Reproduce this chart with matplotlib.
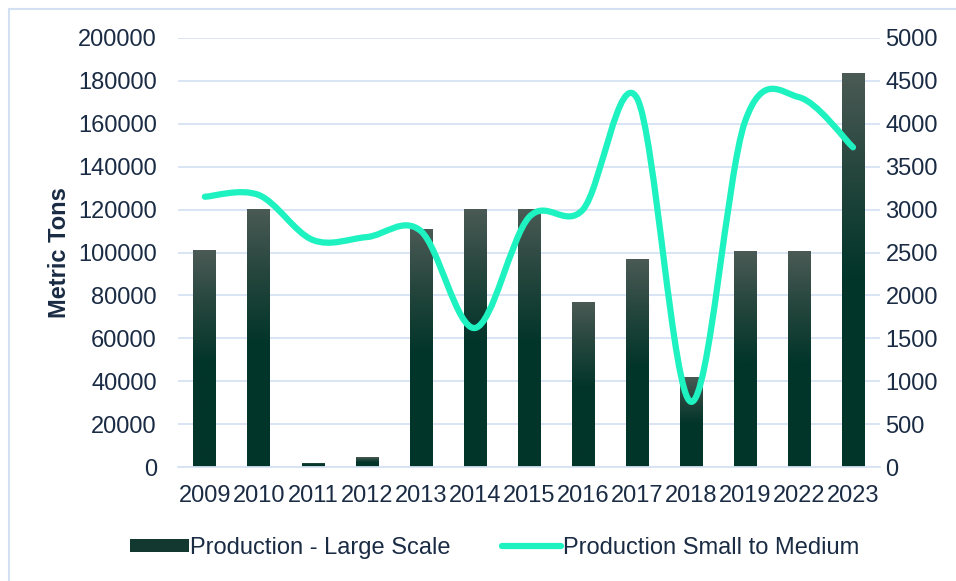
import numpy as np
import matplotlib
matplotlib.use("Agg")
import matplotlib.pyplot as plt
from matplotlib.colors import LinearSegmentedColormap
from matplotlib.path import Path
from matplotlib.patches import PathPatch, Patch, Rectangle
from matplotlib.lines import Line2D

# data
years = ['2009', '2010', '2011', '2012', '2013', '2014', '2015',
         '2016', '2017', '2018', '2019', '2022', '2023']
large_scale = [101000, 120500, 2000, 4500, 111000, 120500, 120500,
               77000, 97000, 42000, 100500, 100500, 183500]
small_medium = [3150, 3170, 2646, 2680, 2750, 1620, 2910,
                3000, 4300, 760, 4025, 4310, 3726]

TEXT = '#1a2b44'
GRID = '#d5e2f4'
LINE = '#1ef2c0'

plt.rcParams['font.family'] = ['Liberation Sans', 'DejaVu Sans']


def smooth_path(xs, ys):
    """Excel style smoothed line: catmull-rom as cubic bezier segments"""
    pts = np.column_stack([xs, ys]).astype(float)
    n = len(pts)
    verts = [pts[0]]
    codes = [Path.MOVETO]
    for i in range(n - 1):
        p0 = pts[i - 1] if i > 0 else pts[i]
        p1 = pts[i]
        p2 = pts[i + 1]
        p3 = pts[i + 2] if i + 2 < n else pts[i + 1]
        verts += [p1 + (p2 - p0) / 6, p2 - (p3 - p1) / 6, p2]
        codes += [Path.CURVE4] * 3
    return Path(verts, codes)


fig = plt.figure(figsize=(9.56, 5.81), dpi=100)
ax = fig.add_axes([0.186, 0.1962, 0.7345, 0.7384])
ax2 = ax.twinx()

x = np.arange(len(years))

# bars with vertical gradient
cmap = LinearSegmentedColormap.from_list(
    'bar', [(0.0, '#02352a'), (0.48, '#02352a'), (0.75, '#25463d'), (1.0, '#4b5a55')])
bars = ax.bar(x, large_scale, width=0.42, color='none', edgecolor='none', zorder=2)
grad = np.linspace(0, 1, 256).reshape(-1, 1)
for b in bars:
    x0, w, h = b.get_x(), b.get_width(), b.get_height()
    im = ax.imshow(grad, extent=(x0, x0 + w, 0, h), origin='lower', aspect='auto',
                   cmap=cmap, vmin=0, vmax=1, zorder=2, interpolation='bilinear')
    im.set_clip_path(b)

ax.set_xlim(-0.5, len(years) - 0.5)
ax.set_ylim(0, 200000)
ax.set_yticks(np.arange(0, 200001, 20000))
ax.set_xticks(x)
ax.set_xticklabels(years)
ax.grid(axis='y', color=GRID, linewidth=1.3, zorder=0)
ax.set_axisbelow(True)

# smoothed line on the right axis
ax2.set_ylim(0, 5000)
ax2.set_yticks(np.arange(0, 5001, 500))
ax2.add_patch(PathPatch(smooth_path(x, small_medium), facecolor='none', edgecolor=LINE,
                        linewidth=4.5, capstyle='round', joinstyle='round', zorder=3))

for a in (ax, ax2):
    for s in a.spines.values():
        s.set_visible(False)
    a.tick_params(length=0, labelsize=17, labelcolor=TEXT)
ax.spines['bottom'].set_visible(True)
ax.spines['bottom'].set_color(GRID)
ax.spines['bottom'].set_linewidth(1.3)
ax.tick_params(axis='y', pad=15)
ax.tick_params(axis='x', pad=13)
ax2.tick_params(axis='y', pad=4)

ax.set_ylabel('Metric Tons', fontsize=17, fontweight='bold', color=TEXT)
ax.yaxis.set_label_coords(-0.152, 0.5)

handles = [Patch(facecolor='#13382f', edgecolor='none'),
           Line2D([0], [0], color=LINE, linewidth=4.5, solid_capstyle='round')]
fig.legend(handles, ['Production - Large Scale', 'Production Small to Medium'],
           loc='center', bbox_to_anchor=(0.517, 0.057), ncol=2, frameon=False,
           fontsize=17, labelcolor=TEXT, handlelength=2.5, handletextpad=0.05,
           columnspacing=2.2, handleheight=0.5)

# chart area border (right/bottom edges fall outside the picture)
fig.patches.append(Rectangle((9 / 956, -0.1), 1.2, 1.1 - 9 / 581, transform=fig.transFigure,
                             fill=False, edgecolor='#d3e0f2', linewidth=1.5))

fig.savefig('out.png', dpi=100)
